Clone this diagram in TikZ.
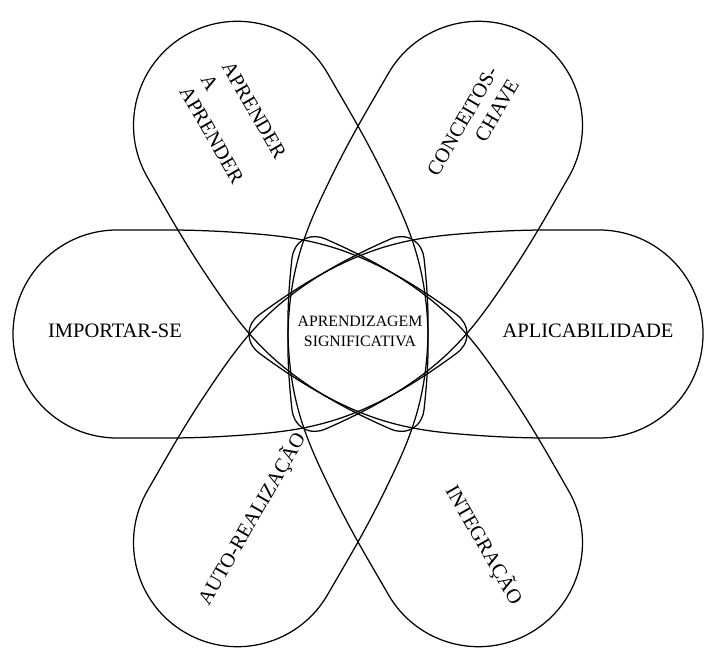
\documentclass[tikz,border=0pt]{standalone}
\usepackage{fontspec}
\setmainfont{Liberation Serif}
\newcommand\petalpath{(-109,0) .. controls (-109,9) and (-103.8,15.4) .. (-99,19)
  .. controls (-11,84) and (41,95) .. (101,100)
  .. controls (161,105) and (191,104) .. (241,104)
  .. controls (298.4,104) and (345,57.4) .. (345,0)
  .. controls (345,-57.4) and (298.4,-104) .. (241,-104)
  .. controls (191,-104) and (161,-105) .. (101,-100)
  .. controls (41,-95) and (-11,-84) .. (-99,-19)
  .. controls (-103.8,-15.4) and (-109,-9) .. (-109,0) -- cycle}
\tikzset{
  petal/.style={draw=black, line width=1.25pt},
  lbl/.style={font=\fontsize{20.5}{24.5}\selectfont, inner sep=0pt, text=black},
  core/.style={font=\fontsize{15.8}{20}\selectfont, inner sep=0pt, align=center, text=black}
}
\begin{document}
\begin{tikzpicture}[x=1pt,y=1pt]
\useasboundingbox (0,0) rectangle (706,648);
\coordinate (C) at (358,314);
\foreach \a in {0,60,120,180,240,300}{
  \draw[petal, shift={(C)}, rotate=\a] \petalpath;
}
\node[core] (center) at (360,317) {APRENDIZAGEM\\SIGNIFICATIVA};
\node[lbl] (importar) at (115,317) {IMPORTAR-SE};
\node[lbl] (aplic) at (588,317) {APLICABILIDADE};
\node[lbl, align=left, rotate=-60] (aprender) at (233,525.5) {APRENDER\\A\\APRENDER};
\node[lbl, align=right, rotate=60] (conceitos) at (473,520.5) {CONCEITOS-\\CHAVE};
\node[lbl, rotate=60] (auto) at (252,129) {AUTO-REALIZAÇÃO};
\node[lbl, rotate=-60] (integ) at (484,103) {INTEGRAÇÃO};
\end{tikzpicture}
\end{document}
